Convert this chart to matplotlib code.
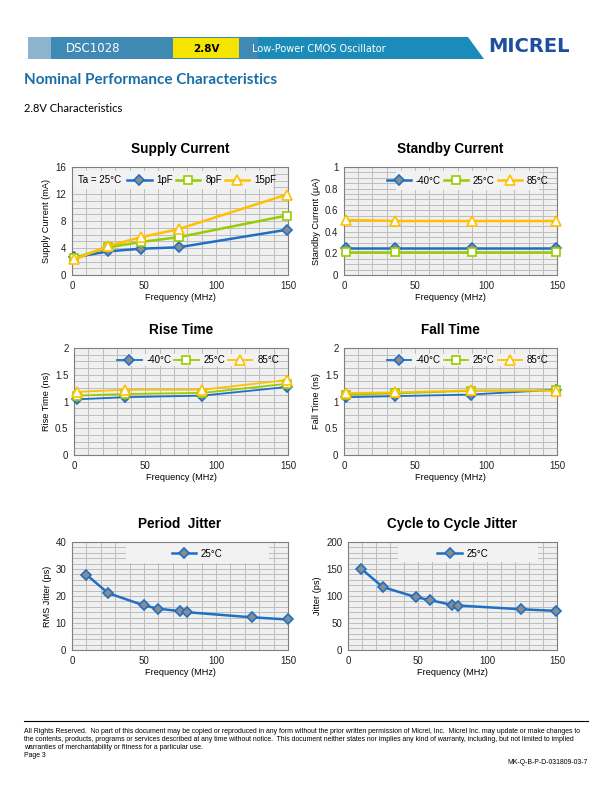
import matplotlib
matplotlib.use('Agg')
import matplotlib.pyplot as plt
from matplotlib.patches import Rectangle, Polygon
from matplotlib.ticker import MultipleLocator, FormatStrFormatter

plt.rcParams['font.family'] = ['Liberation Sans', 'DejaVu Sans']

# Données
supply_freq = [1.5, 25, 48, 74, 149]
supply_1pf = [2.6, 3.5, 3.9, 4.1, 6.7]
supply_8pf = [2.5, 4.1, 4.9, 5.6, 8.8]
supply_15pf = [2.3, 4.3, 5.6, 6.8, 11.9]

standby_freq = [1.5, 36, 90, 149]
standby_m40 = [0.25, 0.25, 0.25, 0.25]
standby_25 = [0.21, 0.21, 0.21, 0.21]
standby_85 = [0.51, 0.50, 0.50, 0.50]

rise_freq = [1.9, 36, 90, 149]
rise_m40 = [1.04, 1.08, 1.11, 1.27]
rise_25 = [1.11, 1.14, 1.16, 1.33]
rise_85 = [1.18, 1.22, 1.22, 1.40]

fall_freq = [1.6, 36, 89.5, 149]
fall_m40 = [1.08, 1.10, 1.13, 1.22]
fall_25 = [1.13, 1.15, 1.20, 1.21]
fall_85 = [1.16, 1.17, 1.21, 1.20]

jit_freq = [10, 25, 50, 60, 75, 80, 125, 150]
period_jitter = [27.9, 21.1, 16.5, 15.3, 14.4, 14.0, 12.1, 11.3]
c2c_freq = [9.5, 25, 49, 59, 74.5, 79, 124, 149]
c2c_jitter = [150.5, 116.5, 97.8, 92.3, 83.6, 82.4, 75.5, 72.5]

temp_labels = ['-40°C', '25°C', '85°C']
cap_labels = ['1pF', '8pF', '15pF']

W, H = 612, 792
fig = plt.figure(figsize=(W / 100, H / 100), dpi=100)

BLUE = '#1f6fc4'
GREEN = '#99cc00'
YELLOW = '#ffc000'
styles = [
    dict(color=BLUE, marker='D', ms=5, mfc='#8c8c8c', mec=BLUE, mew=1.2, lw=1.8),
    dict(color=GREEN, marker='s', ms=6, mfc='white', mec=GREEN, mew=1.2, lw=1.8),
    dict(color=YELLOW, marker='^', ms=7.5, mfc='white', mec=YELLOW, mew=1.2, lw=1.8),
]


def px_axes(l, t, r, b):
    return fig.add_axes([l / W, 1 - b / H, (r - l) / W, (b - t) / H])


def make_chart(box, title, ylabel, ymax, ymaj, ymin, legbox):
    ax = px_axes(*box)
    ax.set_facecolor('#f0f0f0')
    ax.set_xlim(0, 150)
    ax.set_ylim(0, ymax)
    ax.xaxis.set_major_locator(MultipleLocator(50))
    ax.xaxis.set_minor_locator(MultipleLocator(10))
    ax.yaxis.set_major_locator(MultipleLocator(ymaj))
    ax.yaxis.set_minor_locator(MultipleLocator(ymin))
    ax.yaxis.set_major_formatter(FormatStrFormatter('%g'))
    ax.grid(which='both', color='#bdbdbd', lw=0.7)
    ax.set_axisbelow(True)
    ax.tick_params(which='both', length=0, labelsize=7, pad=4, colors='#222222')
    for s in ax.spines.values():
        s.set_color('#7f7f7f')
        s.set_linewidth(0.8)
    ax.set_title(title, fontsize=9.8, fontweight='bold', pad=10)
    ax.set_xlabel('Frequency (MHz)', fontsize=6.6, labelpad=2)
    ax.set_ylabel(ylabel, fontsize=6.6, labelpad=3)
    x0, y0, x1, y1 = legbox
    ax.add_patch(Rectangle((x0, y0), x1 - x0, y1 - y0, transform=ax.transAxes,
                           fc='#f2f2f2', ec='none', zorder=1.5))
    return ax


def add_legend(ax, cx, cy, cols):
    ax.legend(loc='center', bbox_to_anchor=(cx, cy), ncol=cols, frameon=False,
              fontsize=7, handlelength=2.5, columnspacing=0.3, handletextpad=0.5,
              borderpad=0.2)


# Supply Current
ax = make_chart((72, 167, 288, 275), 'Supply Current', 'Supply Current (mA)',
                16, 4, 1, (0.0, 0.80, 0.93, 0.96))
for ys, lab, st in zip([supply_1pf, supply_8pf, supply_15pf], cap_labels, styles):
    ax.plot(supply_freq, ys, label=lab, zorder=3, clip_on=False, **st)
add_legend(ax, 0.6, 0.88, 3)
ax.text(0.03, 0.88, 'Ta = 25°C', transform=ax.transAxes, fontsize=7,
        va='center', ha='left', zorder=4)

# Standby Current
ax = make_chart((344, 167, 557, 275), 'Standby Current', 'Standby Current (µA)',
                1, 0.2, 0.05, (0.245, 0.79, 0.917, 0.96))
for ys, lab, st in zip([standby_m40, standby_25, standby_85], temp_labels, styles):
    ax.plot(standby_freq, ys, label=lab, zorder=3, clip_on=False, **st)
add_legend(ax, 0.58, 0.875, 3)

# Rise Time
ax = make_chart((74, 348, 288, 455), 'Rise Time', 'Rise Time (ns)',
                2, 0.5, 0.125, (0.246, 0.83, 0.918, 0.94))
for ys, lab, st in zip([rise_m40, rise_25, rise_85], temp_labels, styles):
    ax.plot(rise_freq, ys, label=lab, zorder=3, clip_on=False, **dict(st, lw=1.3))
add_legend(ax, 0.58, 0.885, 3)

# Fall Time
ax = make_chart((344, 348, 557, 455), 'Fall Time', 'Fall Time (ns)',
                2, 0.5, 0.125, (0.245, 0.83, 0.917, 0.94))
for ys, lab, st in zip([fall_m40, fall_25, fall_85], temp_labels, styles):
    ax.plot(fall_freq, ys, label=lab, zorder=3, clip_on=False, **dict(st, lw=1.3))
add_legend(ax, 0.58, 0.885, 3)

# Period Jitter
ax = make_chart((72, 542, 288, 650), 'Period  Jitter', 'RMS Jitter (ps)',
                40, 10, 2, (0.252, 0.805, 0.91, 0.99))
ax.plot(jit_freq, period_jitter, label='25°C', zorder=3, clip_on=False, **styles[0])
add_legend(ax, 0.58, 0.89, 1)

# Cycle to Cycle Jitter
ax = make_chart((348, 542, 557, 650), 'Cycle to Cycle Jitter', 'Jitter (ps)',
                200, 50, 10, (0.238, 0.815, 0.908, 0.99))
ax.plot(c2c_freq, c2c_jitter, label='25°C', zorder=3, clip_on=False, **styles[0])
add_legend(ax, 0.55, 0.89, 1)

# En-tête de page
hdr = fig.add_axes([0, 0, 1, 1], zorder=-1)
hdr.set_xlim(0, W)
hdr.set_ylim(H, 0)
hdr.axis('off')
hdr.add_patch(Rectangle((28, 37), 23, 22, fc='#8db4cf', ec='none'))
hdr.add_patch(Rectangle((51, 37), 207, 22, fc='#3f89b5', ec='none'))
hdr.add_patch(Polygon([(258, 37), (468, 37), (484, 59), (258, 59)], fc='#1b8cb9', ec='none'))
hdr.add_patch(Rectangle((173, 38), 66, 20, fc='#f5e400', ec='none'))
hdr.text(66, 48.5, 'DSC1028', color='white', fontsize=8.5, va='center',
         family='DejaVu Sans')
hdr.text(206, 48.5, '2.8V', color='black', fontsize=7.5, va='center', ha='center',
         fontweight='bold', family='DejaVu Sans')
hdr.text(252, 48.5, 'Low-Power CMOS Oscillator', color='white', fontsize=7,
         va='center', family='DejaVu Sans')
hdr.text(529, 46, 'MICREL', color='#1d4f9c', fontsize=14, va='center', ha='center',
         fontweight='heavy', family='DejaVu Sans')
hdr.text(24, 80, 'Nominal Performance Characteristics', color='#1a6ea6',
         fontsize=11, fontweight='bold', va='center', family='Lato')
hdr.text(24, 109, '2.8V Characteristics', color='black', fontsize=8,
         va='center', family='Lato')

# Pied de page
hdr.plot([24, 588], [721, 721], color='black', lw=0.8)
footer = ("All Rights Reserved.  No part of this document may be copied or reproduced in any form "
          "without the prior written permission of Micrel, Inc.  Micrel Inc. may update or make changes to\n"
          "the contents, products, programs or services described at any time without notice.  This document "
          "neither states nor implies any kind of warranty, including, but not limited to implied\n"
          "warranties of merchantability or fitness for a particular use.\nPage 3")
hdr.text(24, 728, footer, fontsize=4.95, va='top', ha='left', linespacing=1.2,
         family='Liberation Sans')
hdr.text(588, 763, 'MK-Q-B-P-D-031809-03-7', fontsize=4.95, va='center', ha='right',
         family='Liberation Sans')

fig.savefig('out.png', dpi=100)
